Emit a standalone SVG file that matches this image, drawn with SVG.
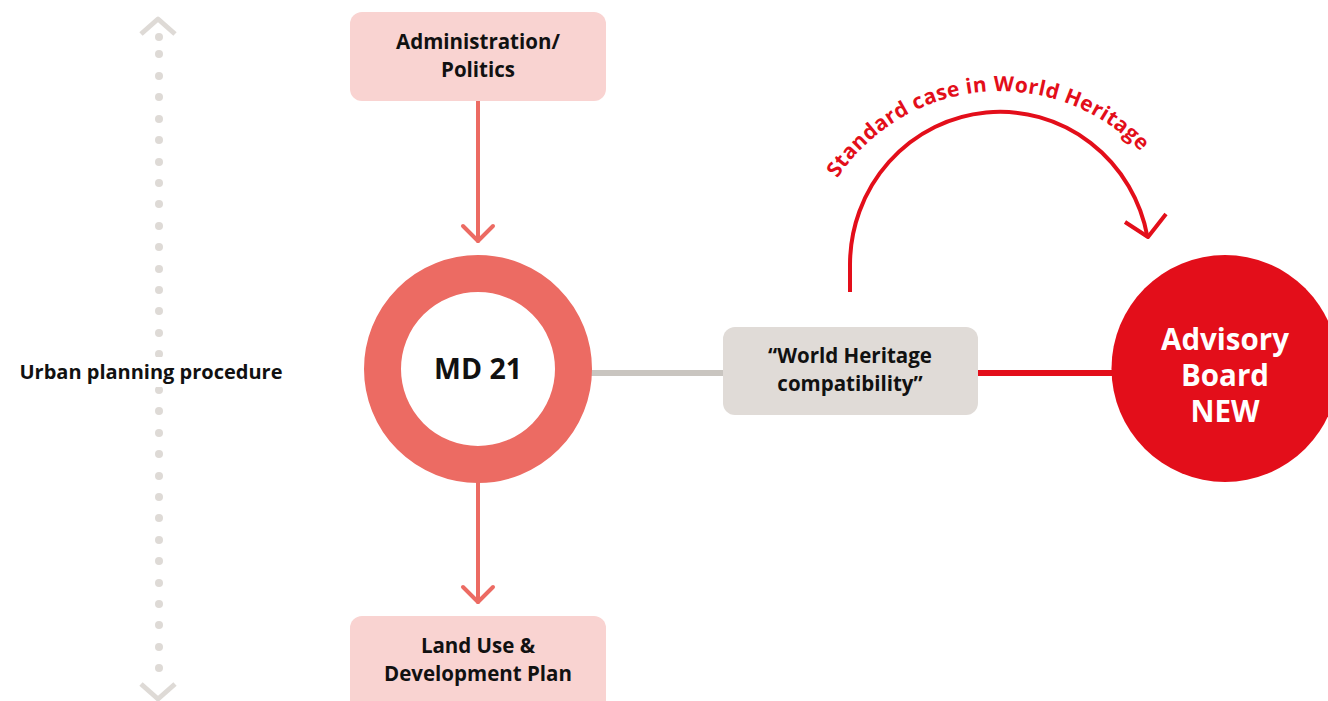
<svg xmlns="http://www.w3.org/2000/svg" width="1328" height="701" viewBox="0 0 1328 701">
  <style>
    .lbl { font-family: "Open Sans", Lato, "Liberation Sans", sans-serif; font-weight: 700; fill: #111; text-anchor: middle; }
    .box-pink { fill: #f9d3d1; }
    .box-grey { fill: #e0dbd7; }
    .dot { fill: #dedad6; }
    .flow { stroke: #ec6b63; stroke-width: 4; fill: none; stroke-linecap: round; stroke-linejoin: round; }
    .red { stroke: #e30e1a; fill: none; stroke-linecap: butt; stroke-linejoin: round; }
  </style>
  <defs>
    <path id="arcLabel" d="M831,188.5 A195,195 0 0 1 1149,160.7"/>
  </defs>
  <rect width="1328" height="701" fill="#ffffff"/>

  <!-- procedure axis -->
  <g id="axis">
    <polyline points="141,34 158,19 175,34" fill="none" stroke="#dedad6" stroke-width="5" stroke-linejoin="round"/>
    <polyline points="141,684 158,699 175,684" fill="none" stroke="#dedad6" stroke-width="5" stroke-linejoin="round"/>
    <g class="dot">
      <circle cx="159" cy="37" r="4"/><circle cx="159" cy="54" r="4"/><circle cx="159" cy="76" r="4"/>
      <circle cx="159" cy="97" r="4"/><circle cx="159" cy="119" r="4"/><circle cx="159" cy="140" r="4"/>
      <circle cx="159" cy="162" r="4"/><circle cx="159" cy="183" r="4"/><circle cx="159" cy="204" r="4"/>
      <circle cx="159" cy="226" r="4"/><circle cx="159" cy="247" r="4"/><circle cx="159" cy="269" r="4"/>
      <circle cx="159" cy="290" r="4"/><circle cx="159" cy="311" r="4"/><circle cx="159" cy="333" r="4"/>
      <circle cx="159" cy="354" r="4"/><circle cx="159" cy="390" r="4"/><circle cx="159" cy="411" r="4"/>
      <circle cx="159" cy="433" r="4"/><circle cx="159" cy="454" r="4"/><circle cx="159" cy="476" r="4"/>
      <circle cx="159" cy="497" r="4"/><circle cx="159" cy="518" r="4"/><circle cx="159" cy="540" r="4"/>
      <circle cx="159" cy="561" r="4"/><circle cx="159" cy="583" r="4"/><circle cx="159" cy="604" r="4"/>
      <circle cx="159" cy="625" r="4"/><circle cx="159" cy="647" r="4"/><circle cx="159" cy="668" r="4"/>
    </g>
    <rect x="10" y="357" width="285" height="30" fill="#ffffff"/>
    <text class="lbl" x="151" y="379" font-size="20">Urban planning procedure</text>
  </g>

  <!-- connectors -->
  <g id="connectors">
    <line class="flow" x1="478" y1="101" x2="478" y2="241"/>
    <polyline class="flow" points="463,226 478,241 493,226"/>
    <line class="flow" x1="478" y1="480" x2="478" y2="602"/>
    <polyline class="flow" points="463,587 478,602 493,587"/>
    <line x1="590" y1="373" x2="724" y2="373" stroke="#c9c5c0" stroke-width="6"/>
    <line x1="977" y1="373" x2="1114" y2="373" stroke="#e30e1a" stroke-width="6"/>
    <path class="red" stroke-width="4" d="M850,292 L850,265 A150,153 0 0 1 1147.5,237"/>
    <polyline class="red" stroke-width="4" stroke-linecap="round" points="1125,222 1148,237 1166,214"/>
    <text font-family="'Open Sans', Lato, 'Liberation Sans', sans-serif" font-weight="700" font-size="21" fill="#e30e1a" text-anchor="middle" letter-spacing="0.4">
      <textPath href="#arcLabel" startOffset="50%">Standard case in World Heritage</textPath>
    </text>
  </g>

  <g id="admin">
    <rect class="box-pink" x="350" y="12" width="256" height="89" rx="12"/>
    <text class="lbl" x="478" y="49" font-size="20.5">Administration/</text>
    <text class="lbl" x="478" y="77" font-size="20.5">Politics</text>
  </g>

  <g id="md21">
    <circle cx="478" cy="369" r="95.5" fill="#ffffff" stroke="#ec6b63" stroke-width="37"/>
    <text class="lbl" x="478" y="379" font-size="28.5">MD 21</text>
  </g>

  <g id="landuse">
    <rect class="box-pink" x="350" y="616" width="256" height="100" rx="12"/>
    <text class="lbl" x="478" y="653" font-size="20.5">Land Use &amp;</text>
    <text class="lbl" x="478" y="681" font-size="20.5">Development Plan</text>
  </g>

  <g id="compat">
    <rect class="box-grey" x="723" y="327" width="255" height="88" rx="12"/>
    <text class="lbl" x="850" y="363" font-size="20.5">“World Heritage</text>
    <text class="lbl" x="850" y="391" font-size="20.5">compatibility”</text>
  </g>

  <g id="advisory">
    <circle cx="1225" cy="368.5" r="113.5" fill="#e30e1a"/>
    <text class="lbl" x="1225" y="350" font-size="29.5" style="fill:#ffffff">Advisory</text>
    <text class="lbl" x="1225" y="386" font-size="29.5" style="fill:#ffffff">Board</text>
    <text class="lbl" x="1225" y="422" font-size="29.5" style="fill:#ffffff">NEW</text>
  </g>
</svg>
